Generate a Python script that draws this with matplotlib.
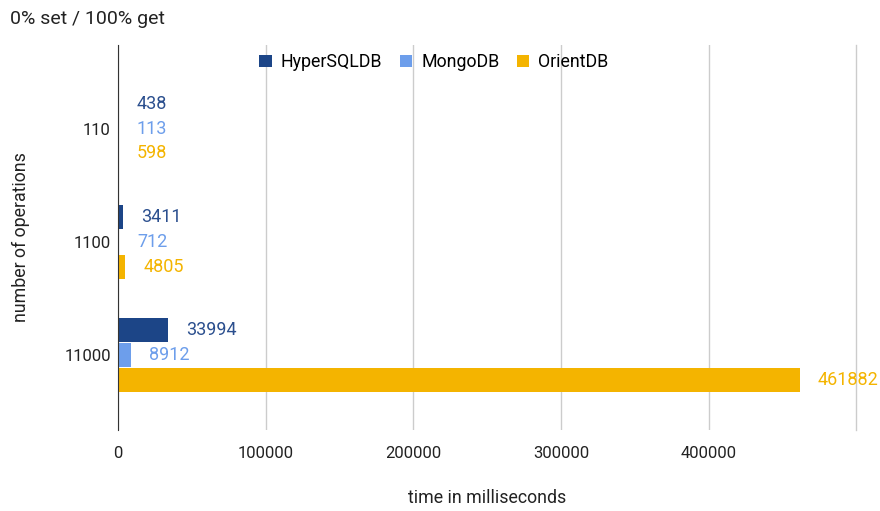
import matplotlib.pyplot as plt
import numpy as np

plt.rcParams['font.family'] = ['Roboto', 'DejaVu Sans']

categories = ["110", "1100", "11000"]
series_names = ["HyperSQLDB", "MongoDB", "OrientDB"]
hypersql = [438, 3411, 33994]
mongo = [113, 712, 8912]
orient = [598, 4805, 461882]
x_ticks = [0, 100000, 200000, 300000, 400000]

colors = ["#1c4587", "#6d9eeb", "#f4b400"]
label_colors = ["#2b4f8e", "#6d9eeb", "#f4b400"]

fig = plt.figure(figsize=(8.8, 5.11), dpi=100)
ax = fig.add_axes([0.134, 0.159, 0.839, 0.753])

y = np.arange(len(categories))
h = 0.219
for i, (vals, name) in enumerate(zip([hypersql, mongo, orient], series_names)):
    pos = y + (i - 1) * h
    ax.barh(pos, vals, height=h * 0.96, color=colors[i], label=name, zorder=3)
    for p, v in zip(pos, vals):
        ax.annotate(str(v), (v, p), xytext=(13, 0), textcoords="offset points",
                    va="center", ha="left", fontsize=13, color=label_colors[i])

ax.set_xlim(0, 500000)
ax.set_ylim(2.66, -0.74)
ax.set_yticks(y)
ax.set_yticklabels(categories)
ax.set_xticks(x_ticks)
ax.set_xticklabels([str(t) for t in x_ticks])
ax.grid(axis="x", color="#cccccc", linewidth=1, zorder=0)
ax.axvline(500000, color="#cccccc", linewidth=1, zorder=0, clip_on=False)
ax.tick_params(axis="both", length=0, labelsize=12, labelcolor="#222222")
ax.tick_params(axis="x", pad=12)
ax.tick_params(axis="y", pad=5)
for s in ["top", "right", "bottom"]:
    ax.spines[s].set_visible(False)
ax.spines["left"].set_color("#333333")
ax.spines["left"].set_zorder(4)

ax.set_xlabel("time in milliseconds", fontsize=12.8, color="#222222", labelpad=20)
ax.set_ylabel("number of operations", fontsize=12.8, color="#222222", labelpad=25)

fig.legend(loc="center", bbox_to_anchor=(0.493, 0.878), ncol=3, frameon=False,
           fontsize=12.8, handlelength=0.7, handleheight=0.7, columnspacing=1.0,
           handletextpad=0.5)

fig.text(0.011, 0.963, "0% set / 100% get", fontsize=14, color="#222222", va="center")

fig.savefig("out.png")
